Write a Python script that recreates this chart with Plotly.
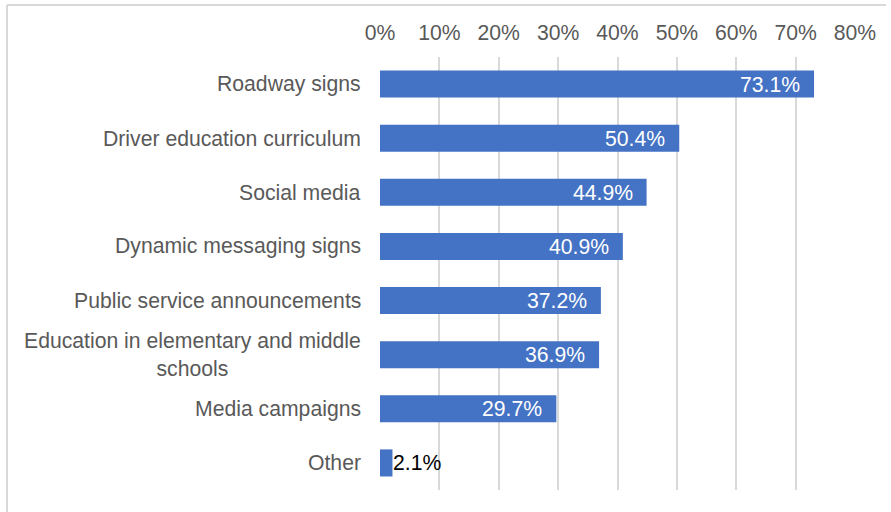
import plotly.graph_objects as go

# Survey results: preferred channels for road-safety messaging
categories = [
    "Roadway signs",
    "Driver education curriculum",
    "Social media",
    "Dynamic messaging signs",
    "Public service announcements",
    "Education in elementary and middle<br>schools",
    "Media campaigns",
    "Other",
]
shares = [0.731, 0.504, 0.449, 0.409, 0.372, 0.369, 0.297, 0.021]
tick_values = [0, 0.1, 0.2, 0.3, 0.4, 0.5, 0.6, 0.7, 0.8]
tick_labels = ["0%", "10%", "20%", "30%", "40%", "50%", "60%", "70%", "80%"]

BAR = "#4472C4"
GRID = "#D9D9D9"
TEXT = "#595959"
FONT = "Liberation Sans, Arial, sans-serif"
FS = 21.2

fig = go.Figure(
    go.Bar(
        x=shares,
        y=categories,
        orientation="h",
        marker=dict(color=BAR, line=dict(width=0)),
        hoverinfo="skip",
    )
)

annotations = []
# Category labels, centred line-by-line and right-aligned to the axis
for cat in categories:
    annotations.append(dict(
        x=0, xref="paper", y=cat, yref="y",
        text=cat, showarrow=False, xanchor="right", yanchor="middle",
        align="center", xshift=-17,
        font=dict(family=FONT, size=FS, color=TEXT),
    ))

# Value labels: inside the bar end when it fits, just outside otherwise
for cat, v in zip(categories, shares):
    label = f"{v * 100:.1f}%"
    if v > 0.1:
        annotations.append(dict(
            x=v, xref="x", y=cat, yref="y", text=label, showarrow=False,
            xanchor="right", yanchor="middle", xshift=-12,
            font=dict(family=FONT, size=FS, color="white"),
        ))
    else:
        annotations.append(dict(
            x=v, xref="x", y=cat, yref="y", text=label, showarrow=False,
            xanchor="left", yanchor="middle", xshift=-1,
            font=dict(family=FONT, size=FS, color="black"),
        ))

L, R, T, B = 380, 36, 57, 22
W, H = 891, 512
pw, ph = W - L - R, H - T - B

def px_x(p):
    return (p - L) / pw

def px_y(p):
    return (H - B - p) / ph

# Chart frame (top and left edges)
shapes = [
    dict(type="line", xref="paper", yref="paper",
         x0=px_x(7), x1=px_x(886), y0=px_y(5), y1=px_y(5),
         line=dict(color=GRID, width=2)),
    dict(type="line", xref="paper", yref="paper",
         x0=px_x(7), x1=px_x(7), y0=px_y(5), y1=px_y(520),
         line=dict(color=GRID, width=2)),
]

fig.update_layout(
    width=W, height=H,
    margin=dict(l=L, r=R, t=T, b=B),
    paper_bgcolor="white", plot_bgcolor="white",
    bargap=0.5,
    showlegend=False,
    annotations=annotations,
    shapes=shapes,
    font=dict(family=FONT, size=FS, color=TEXT),
    xaxis=dict(
        side="top", range=[0, 0.8],
        tickvals=tick_values, ticktext=tick_labels,
        showgrid=True, gridcolor=GRID, gridwidth=1.5,
        zeroline=False, showline=False,
        ticks="outside", ticklen=8, tickcolor="rgba(0,0,0,0)",
        tickfont=dict(family=FONT, size=FS, color=TEXT),
        fixedrange=True,
    ),
    yaxis=dict(
        autorange="reversed",
        showticklabels=False, showgrid=False, zeroline=False, showline=False,
        ticks="", fixedrange=True,
    ),
)

fig.write_html("out.html")
